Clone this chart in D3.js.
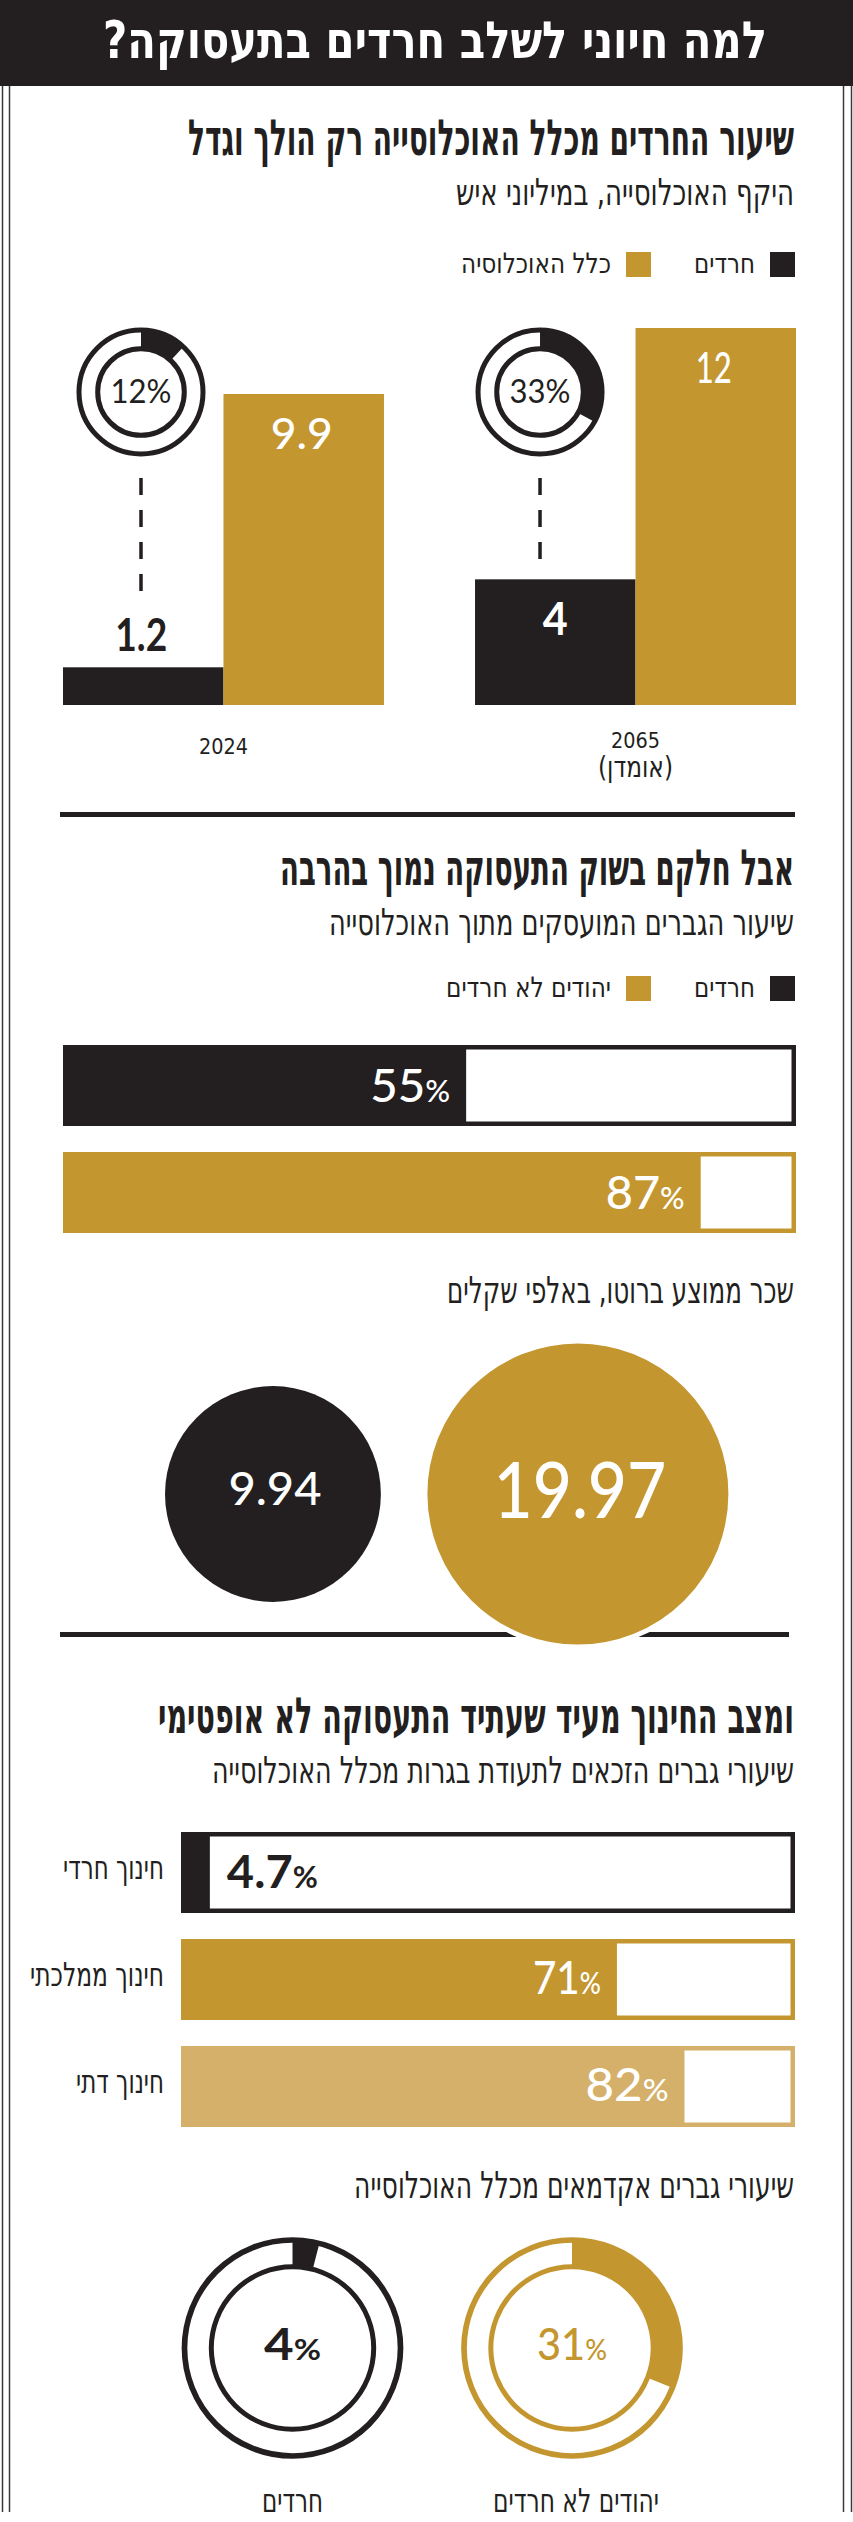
<!DOCTYPE html>
<html><head><meta charset="utf-8">
<script src="https://cdn.jsdelivr.net/npm/d3@7"></script>
<style>body{margin:0;background:#fff}svg{display:block}</style>
</head><body>
<script>
// ---------- DATA ----------
const titleText = "למה חיוני לשלב חרדים בתעסוקה?";

const popTitle = "שיעור החרדים מכלל האוכלוסייה רק הולך וגדל";
const popSubtitle = "היקף האוכלוסייה, במיליוני איש";
const popSeries = ["חרדים", "כלל האוכלוסיה"];
const popYears = ["2024", "2065"];
const popYearNotes = ["", "(אומדן)"];
const popHaredi = [1.2, 4];
const popTotal = [9.9, 12];
const popShare = [12, 33];

const empTitle = "אבל חלקם בשוק התעסוקה נמוך בהרבה";
const empSubtitle = "שיעור הגברים המועסקים מתוך האוכלוסייה";
const empGroups = ["חרדים", "יהודים לא חרדים"];
const empRate = [55, 87];

const wageSubtitle = "שכר ממוצע ברוטו, באלפי שקלים";
const wageGroups = ["חרדים", "יהודים לא חרדים"];
const wageValues = [9.94, 19.97];

const eduTitle = "ומצב החינוך מעיד שעתיד התעסוקה לא אופטימי";
const eduSubtitle = "שיעורי גברים הזכאים לתעודת בגרות מכלל האוכלוסייה";
const eduCats = ["חינוך חרדי", "חינוך ממלכתי", "חינוך דתי"];
const eduRate = [4.7, 71, 82];

const acadSubtitle = "שיעורי גברים אקדמאים מכלל האוכלוסייה";
const acadGroups = ["חרדים", "יהודים לא חרדים"];
const acadRate = [4, 31];

// ---------- STYLE ----------
const C = { black: "#231f20", gold: "#c4962f", light: "#d5b06a", frame: "#3a3a3a" };
const HEB = "'Liberation Sans Narrow','DejaVu Sans Condensed','Liberation Sans',sans-serif";
const NUM = "Lato,'Open Sans',sans-serif";
const W = 853, H = 2522;

const svg = d3.select("body").append("svg").attr("width", W).attr("height", H)
  .style("background", "#fff");

function heb(text, x, y, size, opts = {}) {
  const anchorMap = { right: "start", left: "end", middle: "middle" };
  const t = svg.append("text")
    .attr("x", x).attr("y", y)
    .attr("direction", "rtl")
    .attr("text-anchor", anchorMap[opts.anchor || "right"])
    .attr("font-family", HEB)
    .attr("font-size", size)
    .attr("font-weight", opts.weight || "normal")
    .attr("fill", opts.color || C.black)
    .text(text);
  if (opts.len) t.attr("textLength", opts.len).attr("lengthAdjust", "spacingAndGlyphs");
  return t;
}

function num(value, x, y, size, opts = {}) {
  const t = svg.append("text")
    .attr("x", x).attr("y", y)
    .attr("text-anchor", opts.anchor || "middle")
    .attr("font-family", NUM)
    .attr("font-size", size)
    .attr("font-weight", opts.weight || 700)
    .attr("fill", opts.color || "#fff");
  t.append("tspan").text(String(value));
  if (opts.pct) {
    t.append("tspan").attr("font-size", size * (opts.pctScale || 0.65)).text("%");
  }
  if (opts.len) t.attr("textLength", opts.len).attr("lengthAdjust", "spacingAndGlyphs");
  return t;
}

function donut(cx, cy, pct, color, geo) {
  const g = svg.append("g").attr("transform", `translate(${cx},${cy})`);
  g.append("path")
    .attr("d", d3.arc()({ innerRadius: geo.arcIn, outerRadius: geo.arcOut, startAngle: 0, endAngle: 2 * Math.PI * pct / 100 }))
    .attr("fill", color);
  g.append("circle").attr("r", geo.outer).attr("fill", "none").attr("stroke", color).attr("stroke-width", geo.outerW);
  g.append("circle").attr("r", geo.inner).attr("fill", "none").attr("stroke", color).attr("stroke-width", geo.innerW);
  return g;
}

function legend(items, colors, y, lens) {
  const offsets = [0, 144];
  items.forEach((name, i) => {
    const xr = 795 - offsets[i];
    svg.append("rect").attr("x", xr - 25).attr("y", y).attr("width", 25).attr("height", 25).attr("fill", colors[i]);
    heb(name, xr - 40, y + 21, 28, { len: lens[i] });
  });
}

// ---------- HEADER & FRAME ----------
svg.append("rect").attr("x", 0).attr("y", 0).attr("width", W).attr("height", 86).attr("fill", C.black);
heb(titleText, 435, 58, 51, { anchor: "middle", weight: "bold", color: "#fff", len: 664 });
[2.5, 9.5, 843.5, 851.5].forEach(x => {
  svg.append("line").attr("x1", x).attr("x2", x).attr("y1", 86).attr("y2", 2512)
    .attr("stroke", C.frame).attr("stroke-width", 1.5);
});

// ---------- SECTION 1: population ----------
heb(popTitle, 794, 155, 50, { weight: "bold", len: 606 });
heb(popSubtitle, 794, 205, 37, { len: 338 });
legend(popSeries, [C.black, C.gold], 252, [61, 150]);

const y1 = d3.scaleLinear().domain([0, 12]).range([705, 328]);
const x0 = d3.scaleBand().domain(popYears).range([63, 796]).paddingInner(0.221).paddingOuter(0);
const x1 = d3.scaleBand().domain(["h", "t"]).range([0, x0.bandwidth()]);
const donutDx = [78, 65];
const geoSmall = { outer: 62, outerW: 5, inner: 43.3, innerW: 5, arcIn: 43, arcOut: 62 };

popYears.forEach((yr, i) => {
  const gx = x0(yr);
  const hx = gx + x1("h"), tx = gx + x1("t"), bw = x1.bandwidth();
  // bars
  svg.append("rect").attr("x", hx).attr("y", y1(popHaredi[i])).attr("width", bw)
    .attr("height", y1(0) - y1(popHaredi[i])).attr("fill", C.black);
  svg.append("rect").attr("x", tx).attr("y", y1(popTotal[i])).attr("width", bw)
    .attr("height", y1(0) - y1(popTotal[i])).attr("fill", C.gold);
  // total label
  num(popTotal[i], tx + bw / 2 - 2, y1(popTotal[i]) + 55, 43, { weight: 500, color: "#fff", len: i === 0 ? 62 : 36 });
  // haredi label
  const inside = (y1(0) - y1(popHaredi[i])) > 70;
  if (inside) num(popHaredi[i], hx + bw / 2, y1(popHaredi[i]) + 56, 46, { weight: 700, color: "#fff", len: 25 });
  else num(popHaredi[i], hx + bw / 2 - 2, y1(popHaredi[i]) - 16, 46, { weight: 700, color: C.black, len: 52 });
  // donut + dash
  const dcx = gx + donutDx[i], dcy = 392;
  donut(dcx, dcy, popShare[i], C.black, geoSmall);
  num(popShare[i], dcx, dcy + 11, 32, { weight: 400, color: C.black, pct: true, pctScale: 1, len: 61 });
  const endY = inside ? y1(popHaredi[i]) - 18 : y1(popHaredi[i]) - 76;
  svg.append("line").attr("x1", dcx).attr("x2", dcx).attr("y1", dcy + 86).attr("y2", endY)
    .attr("stroke", C.black).attr("stroke-width", 3.5).attr("stroke-dasharray", "17,15");
  // year labels
  const cx = gx + x0.bandwidth() / 2;
  if (popYearNotes[i]) {
    heb(yr, cx, 748, 22, { anchor: "middle", len: 49 });
    heb(popYearNotes[i], cx, 777, 29, { anchor: "middle", len: 75 });
  } else {
    heb(yr, cx, 754, 22, { anchor: "middle", len: 49 });
  }
});

svg.append("line").attr("x1", 60).attr("x2", 795).attr("y1", 814.5).attr("y2", 814.5)
  .attr("stroke", C.black).attr("stroke-width", 5);

// ---------- SECTION 2: employment ----------
heb(empTitle, 794, 885, 50, { weight: "bold", len: 514 });
heb(empSubtitle, 794, 935, 37, { len: 465 });
legend(empGroups, [C.black, C.gold], 976, [61, 165]);

const xE = d3.scaleLinear().domain([0, 100]).range([63, 796]);
const yE = d3.scaleBand().domain(empGroups).range([1045, 1233]).paddingInner(0.243).paddingOuter(0);
const empColors = [C.black, C.gold];
const empLens = [80, 79];
empGroups.forEach((grp, i) => {
  const top = yE(grp), bh = yE.bandwidth();
  svg.append("rect").attr("x", xE(0)).attr("y", top).attr("width", xE(100) - xE(0)).attr("height", bh).attr("fill", empColors[i]);
  svg.append("rect").attr("x", xE(empRate[i])).attr("y", top + 4.5)
    .attr("width", xE(100) - 4.5 - xE(empRate[i])).attr("height", bh - 9).attr("fill", "#fff");
  num(empRate[i], xE(empRate[i]) - 16, top + 57, 46, { anchor: "end", weight: 500, pct: true, len: empLens[i] });
});

// ---------- SECTION 3: wages ----------
heb(wageSubtitle, 794, 1303, 37, { len: 347 });
svg.append("line").attr("x1", 60).attr("x2", 789).attr("y1", 1634.5).attr("y2", 1634.5)
  .attr("stroke", C.black).attr("stroke-width", 5);
const rW = d3.scaleSqrt().domain([0, 19.97]).range([0, 153]);
const wageColors = [C.black, C.gold];
const wageFont = [46, 78], wageLens = [93, 173], wageDy = [11, 24];
let cursor = 165;
wageValues.forEach((v, i) => {
  const r = rW(v);
  const cx = cursor + r, cy = 1494;
  cursor = cx + r + 44;
  svg.append("circle").attr("cx", cx).attr("cy", cy).attr("r", r).attr("fill", wageColors[i])
    .attr("stroke", i === 1 ? "#fff" : "none").attr("stroke-width", 5);
  num(v, cx + 2, cy + wageDy[i], wageFont[i], { weight: 500, len: wageLens[i] });
});

// ---------- SECTION 4: education ----------
heb(eduTitle, 794, 1733, 50, { weight: "bold", len: 636 });
heb(eduSubtitle, 794, 1783, 37, { len: 582 });
const xD = d3.scaleLinear().domain([0, 100]).range([181, 795]);
const yD = d3.scaleBand().domain(eduCats).range([1832, 2127]).paddingInner(0.243).paddingOuter(0);
const eduColors = [C.black, C.gold, C.light];
const eduCatLens = [101, 134, 88];
const eduNumLens = [91, 68, 83];
eduCats.forEach((cat, i) => {
  const top = yD(cat), bh = yD.bandwidth(), v = eduRate[i];
  svg.append("rect").attr("x", xD(0)).attr("y", top).attr("width", xD(100) - xD(0)).attr("height", bh).attr("fill", eduColors[i]);
  svg.append("rect").attr("x", xD(v)).attr("y", top + 4.5)
    .attr("width", xD(100) - 4.5 - xD(v)).attr("height", bh - 9).attr("fill", "#fff");
  if (v < 20) num(v, xD(v) + 17, top + 56, 46, { anchor: "start", weight: 700, color: C.black, pct: true, len: eduNumLens[i] });
  else num(v, xD(v) - 16, top + 55, 46, { anchor: "end", weight: 500, color: "#fff", pct: true, len: eduNumLens[i] });
  heb(cat, 164, top + 47, 33, { len: eduCatLens[i] });
});

// ---------- SECTION 5: academics ----------
heb(acadSubtitle, 794, 2198, 37, { len: 440 });
const xA = d3.scalePoint().domain(acadGroups).range([292.5, 572]);
const acadColors = [C.black, C.gold];
const geoBig = { outer: 108, outerW: 5.7, inner: 81.2, innerW: 5, arcIn: 81, arcOut: 108 };
const acadNumLens = [57, 70], acadLabLens = [61, 166];
acadGroups.forEach((grp, i) => {
  const cx = xA(grp), cy = 2348;
  donut(cx, cy, acadRate[i], acadColors[i], geoBig);
  num(acadRate[i], cx, cy + 12, 44, { weight: i === 0 ? 700 : 500, color: acadColors[i], pct: true, len: acadNumLens[i] });
  heb(grp, cx + (i === 0 ? 0 : 4), 2512, 33, { anchor: "middle", len: acadLabLens[i] });
});
</script>
</body></html>
